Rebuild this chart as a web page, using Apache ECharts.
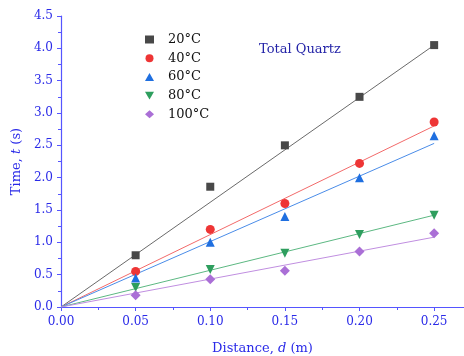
<!DOCTYPE html>
<html><head><meta charset="utf-8">
<script src="https://cdn.jsdelivr.net/npm/echarts@6/dist/echarts.min.js"></script>
<style>html,body{margin:0;padding:0;background:#fff}#c{width:464px;height:356px}</style>
</head><body><div id="c"></div>
<script>
const distances = [0.05, 0.10, 0.15, 0.20, 0.25];
const seriesNames = ['20°C', '40°C', '60°C', '80°C', '100°C'];
const t20 = [0.80, 1.86, 2.50, 3.25, 4.05];
const t40 = [0.55, 1.20, 1.60, 2.22, 2.86];
const t60 = [0.45, 1.00, 1.40, 2.00, 2.65];
const t80 = [0.30, 0.58, 0.83, 1.12, 1.42];
const t100 = [0.18, 0.43, 0.56, 0.86, 1.14];
// linear fit lines (through origin), end values at d = 0.25
const fitX = [0, 0.25];
const fit20 = [0, 4.05];
const fit40 = [0, 2.80];
const fit60 = [0, 2.53];
const fit80 = [0, 1.42];
const fit100 = [0, 1.08];
const xTicks = [0, 0.05, 0.10, 0.15, 0.20, 0.25];
const yTicks = [0, 0.5, 1.0, 1.5, 2.0, 2.5, 3.0, 3.5, 4.0, 4.5];

const values = [t20, t40, t60, t80, t100];
const fits = [fit20, fit40, fit60, fit80, fit100];
const colors = ['#484848', '#ee3535', '#1f6fe0', '#2e9e5e', '#aa6fd6'];
const lineColors = ['#6a6a6a', '#f26a6a', '#4a8ce8', '#5cb882', '#c08ee0'];
const downTri = 'path://M0,0 L10,0 L5,8.7 Z';
const symbols = ['rect', 'circle', 'triangle', downTri, 'diamond'];
const sizes = [8, 9, 9, 9, 10];

const font = 'DejaVu Serif';
const axisBlue = '#5555ff';
const labelBlue = '#2a2ae8';

const series = [];
seriesNames.forEach((n, i) => {
  series.push({
    type: 'line', name: n + ' fit', data: fitX.map((x, j) => [x, fits[i][j]]),
    showSymbol: false, symbol: 'none', silent: true,
    lineStyle: { color: lineColors[i], width: 1 }, z: 2
  });
  series.push({
    type: 'scatter', name: n, data: distances.map((x, j) => [x, values[i][j]]),
    symbol: symbols[i], symbolSize: sizes[i],
    itemStyle: { color: colors[i], opacity: 1 }, z: 3
  });
});

const chart = echarts.init(document.getElementById('c'), null, { renderer: 'canvas' });
chart.setOption({
  animation: false,
  backgroundColor: '#fff',
  grid: { left: 61, top: 16, right: 0, bottom: 49, containLabel: false, outerBoundsMode: 'none' },
  title: {
    text: 'Total Quartz', left: 254, top: 38,
    textStyle: { fontFamily: font, fontSize: 13, fontWeight: 'normal', color: '#2424a8' }
  },
  legend: {
    orient: 'vertical', left: 140, top: 28, itemGap: 5.7, itemWidth: 9, itemHeight: 8,
    data: seriesNames.map((n, i) => ({ name: n, icon: symbols[i] })),
    textStyle: { fontFamily: font, fontSize: 13, color: '#111', padding: [0, 0, 0, 9] }
  },
  xAxis: {
    type: 'value', min: 0, max: 0.27, interval: 0.05,
    name: '{n|Distance, }{i|d}{n| (m)}', nameLocation: 'middle', nameGap: 35,
    nameTextStyle: { rich: {
      n: { fontFamily: font, fontSize: 13, color: labelBlue },
      i: { fontFamily: font, fontSize: 13, color: labelBlue, fontStyle: 'italic' } } },
    axisLine: { show: true, lineStyle: { color: axisBlue, width: 1.2 } },
    axisTick: { show: true, inside: false, length: 4, lineStyle: { color: axisBlue } },
    minorTick: { show: true, splitNumber: 2, length: 3, lineStyle: { color: axisBlue } },
    splitLine: { show: false },
    axisLabel: { fontFamily: font, fontSize: 12, color: labelBlue, margin: 9, showMaxLabel: false,
      formatter: v => (xTicks.some(t => Math.abs(t - v) < 1e-9) ? v.toFixed(2) : '') }
  },
  yAxis: {
    type: 'value', min: 0, max: 4.5, interval: 0.5,
    name: '{n|Time, }{i|t}{n| (s)}', nameLocation: 'middle', nameGap: 37,
    nameTextStyle: { rich: {
      n: { fontFamily: font, fontSize: 13, color: labelBlue },
      i: { fontFamily: font, fontSize: 13, color: labelBlue, fontStyle: 'italic' } } },
    axisLine: { show: true, lineStyle: { color: axisBlue, width: 1.2 } },
    axisTick: { show: true, inside: false, length: 4, lineStyle: { color: axisBlue } },
    minorTick: { show: true, splitNumber: 2, length: 3, lineStyle: { color: axisBlue } },
    splitLine: { show: false },
    axisLabel: { fontFamily: font, fontSize: 12, color: labelBlue, margin: 8,
      formatter: v => (yTicks.some(t => Math.abs(t - v) < 1e-9) ? v.toFixed(1) : '') }
  },
  series: series
});
</script></body></html>
